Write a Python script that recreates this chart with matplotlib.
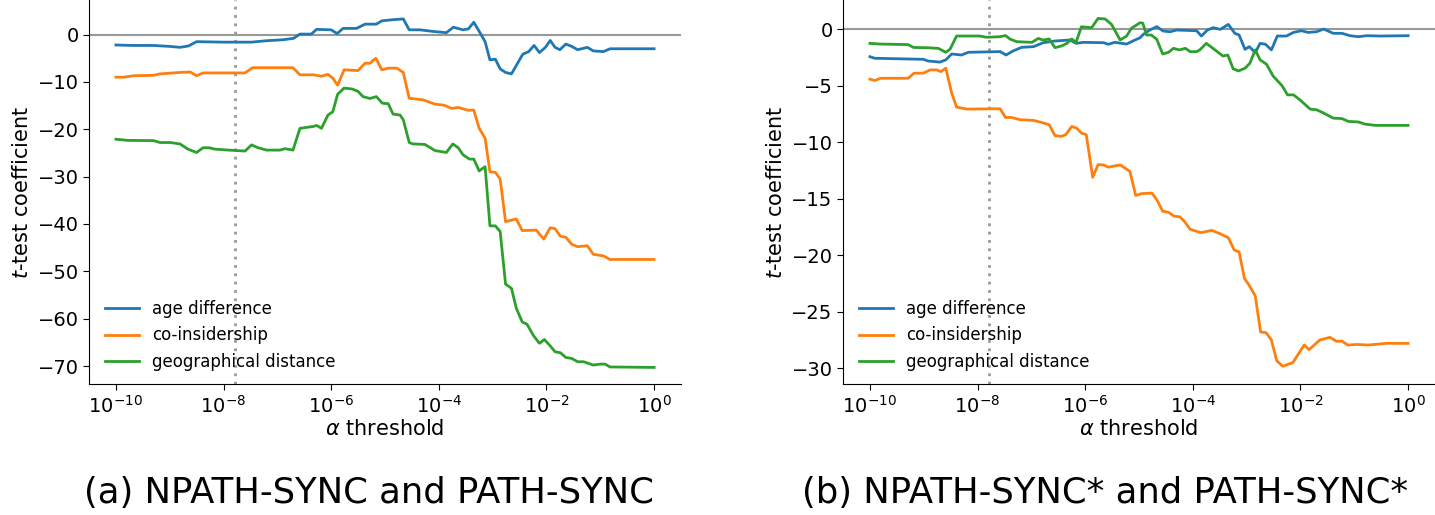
import matplotlib
matplotlib.use("Agg")
import matplotlib.pyplot as plt
import numpy as np

# ---------------- data (alpha exponent, t-test coefficient) ----------------
# Panel (a): NPATH-SYNC and PATH-SYNC
a_age_exp = [-10.0, -9.7, -9.3, -9.0, -8.81, -8.65, -8.5, -8.0, -7.48, -7.2, -6.9, -6.7, -6.58, -6.37, -6.27, -6.0,
             -5.89, -5.78, -5.53, -5.37, -5.16, -5.06, -4.84, -4.66, -4.55, -4.35, -4.10, -3.86, -3.73, -3.55, -3.45,
             -3.35, -3.23, -3.14, -3.05, -2.95, -2.86, -2.76, -2.65, -2.44, -2.33, -2.23, -2.13, -2.02, -1.93, -1.84,
             -1.75, -1.64, -1.53, -1.42, -1.24, -1.13, -0.94, -0.82, 0.0]
a_age_val = [-2.2, -2.3, -2.3, -2.5, -2.7, -2.4, -1.5, -1.6, -1.6, -1.3, -1.1, -0.8, 0.1, 0.1, 1.1, 1.0,
             0.2, 1.3, 1.3, 2.2, 2.2, 2.9, 3.15, 3.3, 1.0, 1.0, 0.65, 0.4, 1.55, 1.0, 1.2,
             2.6, 0.3, -1.5, -5.35, -5.2, -7.25, -8.0, -8.3, -4.15, -3.6, -2.3, -3.8, -2.7, -1.25, -2.7,
             -3.2, -2.0, -2.5, -3.2, -2.7, -3.45, -3.6, -3.0, -3.0]

a_coi_exp = [-10.0, -9.85, -9.67, -9.3, -9.18, -8.81, -8.62, -8.5, -8.38, -7.6, -7.46, -6.71, -6.58, -6.33, -6.18,
             -6.06, -5.97, -5.88, -5.76, -5.5, -5.37, -5.28, -5.17, -5.06, -4.94, -4.78, -4.66, -4.55, -4.29, -4.07,
             -3.91, -3.76, -3.64, -3.45, -3.35, -3.25, -3.14, -3.05, -2.95, -2.86, -2.76, -2.56, -2.45, -2.19, -2.05,
             -1.93, -1.84, -1.74, -1.64, -1.53, -1.42, -1.24, -1.13, -0.94, -0.82, 0.0]
a_coi_val = [-9.0, -9.0, -8.7, -8.6, -8.3, -8.0, -7.9, -8.7, -8.1, -8.1, -7.0, -7.0, -8.5, -8.5, -8.8,
             -8.4, -9.2, -10.7, -7.45, -7.6, -6.05, -6.05, -5.0, -7.45, -7.1, -7.1, -8.0, -13.45, -13.8, -14.7,
             -14.9, -15.6, -15.4, -16.0, -15.95, -19.8, -21.9, -29.0, -29.1, -30.5, -39.5, -38.95, -41.4, -41.3, -43.2,
             -40.8, -41.0, -42.6, -42.8, -44.3, -44.8, -44.6, -46.4, -46.75, -47.5, -47.5]

a_geo_exp = [-10.0, -9.78, -9.3, -9.18, -8.99, -8.81, -8.66, -8.5, -8.38, -8.27, -8.16, -7.91, -7.6, -7.48, -7.36,
             -7.2, -6.95, -6.86, -6.71, -6.58, -6.33, -6.27, -6.18, -6.06, -5.97, -5.88, -5.76, -5.61, -5.5, -5.41,
             -5.28, -5.16, -5.05, -4.94, -4.85, -4.72, -4.66, -4.55, -4.48, -4.26, -4.07, -3.86, -3.74, -3.64, -3.55,
             -3.43, -3.35, -3.25, -3.14, -3.05, -2.95, -2.86, -2.76, -2.65, -2.56, -2.45, -2.36, -2.24, -2.13, -2.04,
             -1.93, -1.84, -1.74, -1.64, -1.53, -1.42, -1.31, -1.13, -1.0, -0.91, -0.82, 0.0]
a_geo_val = [-22.1, -22.35, -22.4, -22.8, -22.8, -23.1, -24.2, -24.9, -23.9, -23.9, -24.2, -24.4, -24.6, -23.3, -23.9,
             -24.4, -24.4, -24.1, -24.4, -19.8, -19.4, -19.2, -19.8, -17.0, -16.3, -12.6, -11.3, -11.5, -12.0, -13.1,
             -13.5, -13.1, -14.5, -14.6, -16.8, -17.0, -18.0, -22.8, -23.1, -23.2, -24.5, -24.9, -23.1, -23.9, -25.4,
             -26.3, -26.3, -28.8, -27.9, -40.4, -40.4, -41.6, -52.7, -53.6, -57.8, -60.7, -61.2, -63.6, -65.2, -64.4,
             -65.75, -67.0, -67.2, -68.2, -68.4, -69.1, -69.1, -69.8, -69.6, -69.6, -70.2, -70.3]

# Panel (b): NPATH-SYNC* and PATH-SYNC*
b_age_exp = [-10.0, -9.91, -9.32, -9.01, -8.92, -8.7, -8.59, -8.48, -8.3, -8.17, -7.58, -7.47, -7.34, -7.18, -6.96,
             -6.78, -6.56, -6.28, -6.17, -6.04, -5.66, -5.57, -5.45, -5.23, -5.1, -4.98, -4.92, -4.8, -4.67, -4.55,
             -4.42, -4.3, -3.93, -3.84, -3.73, -3.62, -3.49, -3.34, -3.22, -3.14, -3.03, -2.95, -2.84, -2.75, -2.65,
             -2.54, -2.43, -2.26, -2.13, -1.98, -1.86, -1.7, -1.57, -1.39, -1.23, -1.08, -0.92, -0.77, -0.52, 0.0]
b_age_val = [-2.42, -2.56, -2.62, -2.65, -2.8, -2.9, -2.7, -2.18, -2.27, -2.03, -1.97, -2.27, -1.91, -1.59, -1.53,
             -1.18, -1.03, -0.94, -1.24, -1.15, -1.18, -1.32, -1.15, -1.3, -1.0, -0.74, -0.44, -0.06, 0.24, -0.15,
             -0.21, -0.06, -0.12, -0.59, -0.06, 0.15, 0.0, 0.44, -0.35, -0.5, -1.77, -1.53, -2.06, -1.24, -1.32,
             -1.82, -0.59, -0.59, -0.27, -0.12, -0.27, -0.21, 0.03, -0.35, -0.35, -0.56, -0.65, -0.56, -0.59, -0.56]

b_coi_exp = [-10.0, -9.91, -9.8, -9.29, -9.18, -9.01, -8.88, -8.76, -8.68, -8.59, -8.48, -8.39, -8.2, -7.58, -7.48,
             -7.37, -7.21, -6.96, -6.81, -6.67, -6.56, -6.44, -6.36, -6.25, -6.16, -6.07, -5.98, -5.86, -5.76, -5.66,
             -5.57, -5.35, -5.17, -5.06, -4.95, -4.76, -4.66, -4.56, -4.45, -4.35, -4.24, -4.16, -4.05, -3.85, -3.65,
             -3.49, -3.34, -3.23, -3.14, -3.04, -2.96, -2.84, -2.74, -2.64, -2.54, -2.44, -2.33, -2.14, -2.04, -1.93,
             -1.84, -1.64, -1.45, -1.33, -1.23, -1.12, -0.95, -0.74, -0.4, 0.0]
b_coi_val = [-4.41, -4.53, -4.33, -4.33, -3.88, -3.88, -3.59, -3.59, -3.74, -3.44, -5.65, -6.88, -7.06, -7.03, -7.8,
             -7.8, -8.0, -8.06, -8.24, -8.44, -9.41, -9.47, -9.32, -8.6, -8.74, -9.18, -9.32, -13.1, -11.98, -12.0,
             -12.2, -12.0, -12.57, -14.71, -14.54, -14.5, -15.15, -16.1, -16.2, -16.54, -16.6, -16.98, -17.7, -18.0, -17.8,
             -18.1, -18.45, -19.54, -19.7, -22.07, -22.6, -23.6, -26.8, -26.85, -27.5, -29.34, -29.83, -29.5, -28.75, -27.95,
             -28.36, -27.5, -27.27, -27.62, -27.6, -27.95, -27.9, -27.95, -27.8, -27.8]

b_geo_exp = [-10.0, -9.81, -9.29, -9.19, -8.92, -8.73, -8.59, -8.51, -8.39, -7.96, -7.83, -7.58, -7.48, -7.4, -7.27,
             -6.99, -6.87, -6.78, -6.67, -6.56, -6.44, -6.34, -6.25, -6.17, -6.07, -5.88, -5.76, -5.63, -5.51, -5.35,
             -5.23, -5.14, -4.98, -4.93, -4.86, -4.77, -4.67, -4.56, -4.45, -4.36, -4.25, -4.14, -4.05, -3.93, -3.87,
             -3.75, -3.65, -3.44, -3.35, -3.25, -3.15, -3.03, -2.94, -2.84, -2.75, -2.63, -2.51, -2.34, -2.24, -2.13,
             -2.01, -1.82, -1.7, -1.57, -1.39, -1.23, -1.11, -0.92, -0.8, -0.61, 0.0]
b_geo_val = [-1.24, -1.3, -1.35, -1.6, -1.63, -1.68, -2.03, -1.75, -0.59, -0.59, -0.7, -0.65, -0.55, -0.85, -1.09,
             -1.15, -0.8, -0.95, -0.85, -1.62, -1.47, -1.24, -0.85, -1.15, 0.23, 0.15, 0.97, 0.92, 0.44, -0.94,
             -0.59, 0.1, 0.59, 0.55, -0.5, -0.5, -0.88, -2.18, -2.03, -1.68, -1.82, -1.68, -1.97, -1.97, -1.82,
             -1.24, -1.59, -2.36, -2.27, -3.5, -3.68, -3.44, -3.0, -1.82, -2.7, -3.09, -4.12, -5.0, -5.8, -5.8,
             -6.24, -7.06, -7.12, -7.41, -7.86, -7.9, -8.15, -8.2, -8.39, -8.5, -8.5]

series_labels = ["age difference", "co-insidership", "geographical distance"]
series_colors = ["#1f77b4", "#ff7f0e", "#2ca02c"]
threshold_alpha = 1.6e-8
captions = ["(a) NPATH-SYNC and PATH-SYNC", "(b) NPATH-SYNC* and PATH-SYNC*"]

panels = [
    [(a_age_exp, a_age_val), (a_coi_exp, a_coi_val), (a_geo_exp, a_geo_val)],
    [(b_age_exp, b_age_val), (b_coi_exp, b_coi_val), (b_geo_exp, b_geo_val)],
]

W, H = 1435, 515
fig = plt.figure(figsize=(W / 100, H / 100), dpi=100)
axes_px = [(89, 0, 592, 384), (843, 0, 592, 384)]
cap_x = [369, 1105]

for i, (ax_px, data) in enumerate(zip(axes_px, panels)):
    x0, top, w, h = ax_px
    ax = fig.add_axes([x0 / W, 1 - (top + h) / H, w / W, h / H])
    ax.axhline(0, color="#999999", lw=1.5, zorder=1)
    ax.axvline(threshold_alpha, color="#999999", lw=2, ls=(0, (1, 2)), zorder=1)
    for (ex, vals), lab, col in zip(data, series_labels, series_colors):
        ax.plot(10.0 ** np.array(ex), vals, color=col, lw=2, label=lab, zorder=2)
    ax.set_xscale("log")
    ax.set_xlim(10 ** -10.5, 10 ** 0.5)
    ax.set_xticks([1e-10, 1e-8, 1e-6, 1e-4, 1e-2, 1e0])
    ax.minorticks_off()
    ax.spines["top"].set_visible(False)
    ax.spines["right"].set_visible(False)
    ax.tick_params(labelsize=14, length=4)
    ax.set_xlabel(r"$\alpha$ threshold", fontsize=15, labelpad=2)
    ax.set_ylabel(r"$t$-test coefficient", fontsize=15, labelpad=4)
    ax.legend(loc="lower left", frameon=False, fontsize=12, borderaxespad=0.4,
              handlelength=2.0, bbox_to_anchor=(0.005, 0.0))
    fig.text(cap_x[i] / W, 1 - 493 / H, captions[i], ha="center", va="center", fontsize=25.5)

fig.axes[0].set_yticks([0, -10, -20, -30, -40, -50, -60, -70])
fig.axes[0].set_ylim(-73.8, 7.3)
fig.axes[1].set_yticks([0, -5, -10, -15, -20, -25, -30])
fig.axes[1].set_ylim(-31.4, 2.6)

fig.savefig("out.png", dpi=100)
